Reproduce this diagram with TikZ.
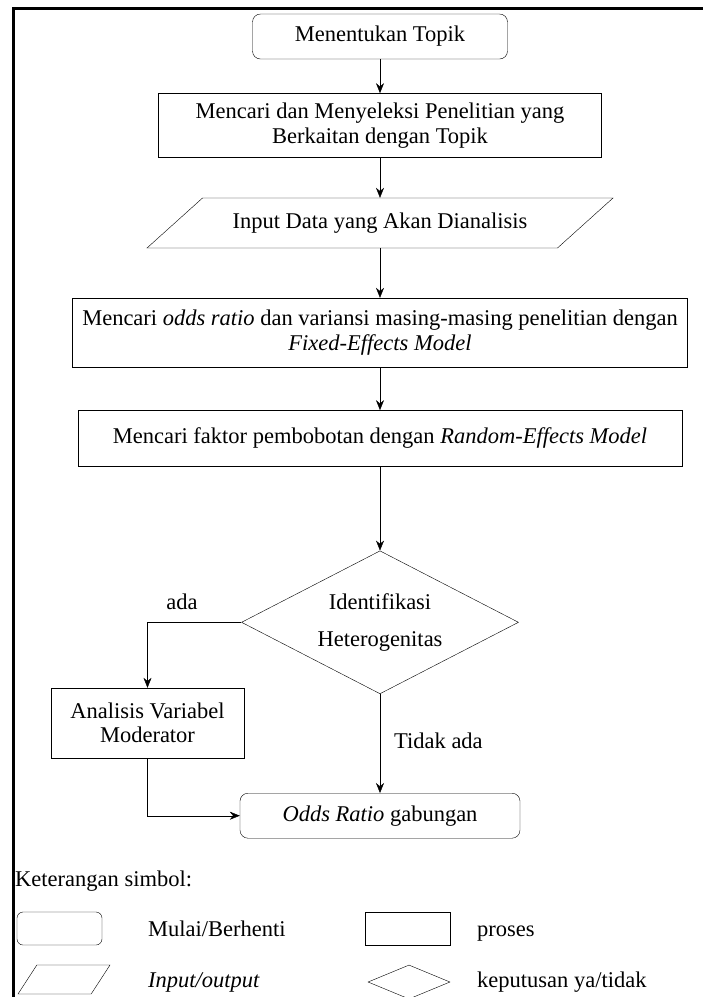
\documentclass[tikz,border=0pt]{standalone}
\usepackage{fontspec}
\setmainfont{Liberation Serif}
\usepackage{tikz}
\usetikzlibrary{
  shapes.geometric, % trapezium, diamond
  arrows.meta,
  positioning,      % below=of
}
\tikzset{
  line width=1.5pt,
  >={Stealth[length=10pt,width=8pt]},
  my start/.style={
    draw,
    rectangle,
    rounded corners=8pt,
    align=center
  },
  my process/.style={
    draw,
    rectangle,
    align=center
  },
  my io/.style={
    draw,
    trapezium,
    trapezium stretches body,
    trapezium left angle=42,
    trapezium right angle=138,
    text height=15pt,
    text depth=5pt,
    inner ysep=15pt,
    align=center
  },
  my decision/.style={
    draw,
    diamond,
    inner sep=0pt,
    align=center
  },
  my label/.style={
    inner sep=0pt
  }
}

\begin{document}
\begin{tikzpicture}[x=1pt,y=-1pt,font=\fontsize{22.5}{24.5}\selectfont]
\useasboundingbox (0,0) rectangle (703,997);
% frame (cut at the right and bottom)
\draw[line width=3pt] (13,997) |- (703,8);

% main chain
\node[my start,   minimum width=255pt, minimum height=45pt] (top)  at (380,36.5) {Menentukan Topik};
\node[my process, minimum width=443pt, minimum height=64pt] (cari) [below=34pt of top]
  {Mencari dan Menyeleksi Penelitian yang\\Berkaitan dengan Topik};
\node[my io,      minimum width=466pt] (data) at (380,223)
  {Input Data yang Akan Dianalisis};
\node[my process, minimum width=615pt, minimum height=69pt] (odds) at (380,332.5)
  {Mencari \textit{odds ratio} dan variansi masing-masing penelitian dengan\\\textit{Fixed-Effects Model}};
\node[my process, minimum width=604pt, minimum height=56pt] (bobot) [below=43pt of odds]
  {Mencari faktor pembobotan dengan \textit{Random-Effects Model}};
\node[my decision, aspect=1.94, minimum width=277pt, minimum height=143pt] (hetero) [below=84pt of bobot]
  {Identifikasi\\[13pt]Heterogenitas};
\node[my start,   minimum width=280pt, minimum height=45pt] (gab) [below=99pt of hetero]
  {\textit{Odds Ratio} gabungan};
\node[my process, minimum width=193pt, minimum height=70pt] (mod) at (147.5,723)
  {Analisis Variabel\\Moderator};

\path[->] (top)  edge (cari)
          (cari.south) edge (cari.south |- data.north)
          (odds.north |- data.south) edge (odds.north)
          (odds) edge (bobot)
          (bobot) edge (hetero)
          (hetero) edge (gab);
\draw[->] (hetero.west) -| (mod.north);
\draw[->] (mod.south) |- (gab.west);

\node[my label, anchor=base] (ada) at (182,609) {ada};
\node[my label, anchor=base west] (tidak) at (394,748) {Tidak ada};

% legend
\node[my label, anchor=base west] (ket) at (15,886) {Keterangan simbol:};
\node[my start,   minimum width=85pt, minimum height=33pt, rounded corners=6pt] (l1) at (59.5,928.5) {};
\node[my label, anchor=base west] (t1) at (148,936) {Mulai/Berhenti};
\node[my io, trapezium left angle=57, trapezium right angle=123,
      text height=0pt, text depth=0pt, inner ysep=14.5pt,
      minimum width=92pt] (l3) at (64,979.5) {};
\node[my label, anchor=base west] (t3) at (148,987) {\textit{Input/output}};
\node[my process, minimum width=85pt, minimum height=33pt] (l2) at (407.5,928.5) {};
\node[my label, anchor=base west] (t2) at (477,936) {proses};
\node[my decision, aspect=2.4, inner sep=2pt, minimum width=82pt, minimum height=34pt] (l4) at (409,982) {};
\node[my label, anchor=base west] (t4) at (477,987) {keputusan ya/tidak};
\end{tikzpicture}
\end{document}
